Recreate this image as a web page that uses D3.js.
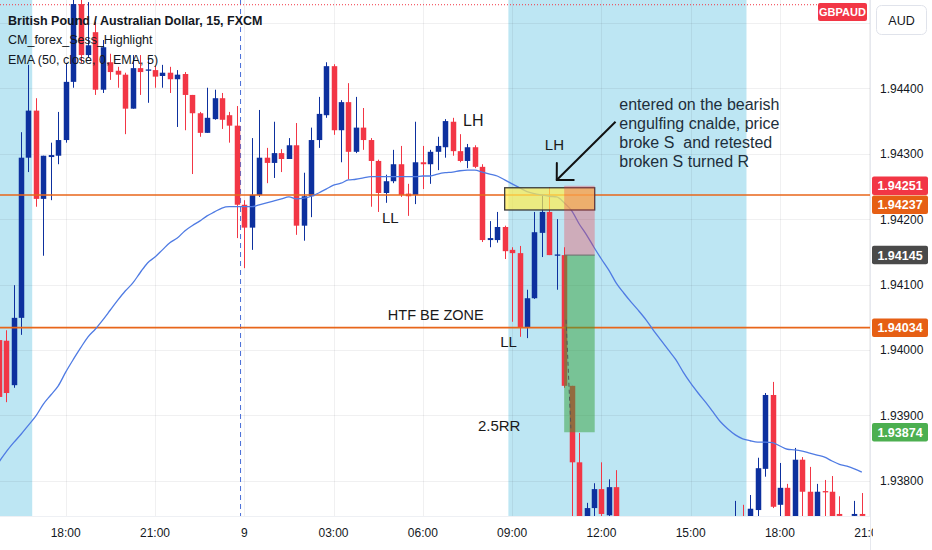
<!DOCTYPE html>
<html><head><meta charset="utf-8">
<script src="https://cdn.jsdelivr.net/npm/d3@7"></script>
<style>
html,body{margin:0;padding:0;background:#fff;}
svg{display:block;font-family:"Liberation Sans",Arial,sans-serif;}
text{white-space:pre;}
</style>
</head><body>
<svg id="chart" width="932" height="550"></svg>
<script>
// ---------------- DATA ----------------
// 15-minute candles, index 0 = 18:00 (day 8); index 24 = 00:00 day 9
const candleIndex = [-9,-8,-7,-6,-5,-4,-3,-2,-1,
  0,1,2,3,4,5,6,7,8,9,10,11,12,13,14,15,16,17,18,19,20,21,22,23,24,25,26,27,28,29,
  30,31,32,33,34,35,36,37,38,39,40,41,42,43,44,45,46,47,48,49,50,51,52,53,54,55,56,57,58,59,
  60,61,62,63,64,65,66,67,68,69,70,71,72,73,74,
  90,91,92,93,94,95,96,97,98,99,100,101,102,103,104,106,107];
const openV = [1.94015,1.94014,1.93946,1.94049,1.94294,1.94366,1.94231,1.94295,1.94297,
  1.94321,1.94410,1.94529,1.94451,1.94486,1.94398,1.94440,1.94427,1.94421,1.94369,
  1.94431,1.94427,1.94428,1.94419,1.94424,1.94414,1.94422,1.94390,1.94362,1.94332,
  1.94353,1.94385,1.94359,1.94343,1.94222,1.94187,1.94237,1.94294,1.94286,1.94301,
  1.94292,1.94313,1.94190,1.94235,1.94321,1.94359,1.94434,1.94336,1.94379,1.94303,
  1.94340,1.94321,1.94289,1.94240,1.94258,1.94284,1.94239,1.94237,1.94287,1.94284,
  1.94303,1.94310,1.94349,1.94304,1.94289,1.94310,1.94280,1.94168,1.94168,1.94188,
  1.94153,1.94148,1.94034,1.94079,1.94179,1.94211,1.94144,1.94145,1.93945,1.93828,
  1.93732,1.93758,1.93787,1.93747,1.93790,
  1.93724,1.93732,1.93732,1.93755,1.93818,1.93931,1.93763,1.93789,1.93737,1.93832,
  1.93783,1.93737,1.93784,1.93783,1.93749,1.93746,1.93749];
const highV = [1.94023,1.94030,1.94099,1.94333,1.94436,1.94385,1.94297,1.94317,1.94364,
  1.94439,1.94540,1.94540,1.94532,1.94502,1.94474,1.94453,1.94433,1.94424,1.94451,
  1.94451,1.94447,1.94434,1.94436,1.94433,1.94428,1.94425,1.94390,1.94364,1.94401,
  1.94398,1.94393,1.94364,1.94373,1.94229,1.94324,1.94367,1.94309,1.94349,1.94307,
  1.94324,1.94347,1.94271,1.94340,1.94387,1.94440,1.94437,1.94382,1.94408,1.94387,
  1.94370,1.94324,1.94291,1.94268,1.94306,1.94312,1.94254,1.94349,1.94312,1.94306,
  1.94326,1.94353,1.94355,1.94330,1.94315,1.94313,1.94284,1.94197,1.94211,1.94190,
  1.94157,1.94159,1.94092,1.94211,1.94237,1.94249,1.94200,1.94157,1.93945,1.93873,
  1.93766,1.93796,1.93828,1.93802,1.93816,
  1.93769,1.93763,1.93778,1.93835,1.93934,1.93951,1.93827,1.93795,1.93850,1.93836,
  1.93821,1.93795,1.93801,1.93807,1.93776,1.93769,1.93781];
const lowV = [1.93923,1.93920,1.93942,1.94023,1.94272,1.94219,1.94144,1.94229,1.94284,
  1.94317,1.94401,1.94439,1.94447,1.94390,1.94393,1.94413,1.94401,1.94330,1.94369,
  1.94390,1.94378,1.94401,1.94401,1.94393,1.94341,1.94336,1.94269,1.94326,1.94332,
  1.94352,1.94338,1.94317,1.94171,1.94125,1.94153,1.94234,1.94255,1.94263,1.94272,
  1.94292,1.94176,1.94167,1.94203,1.94309,1.94355,1.94329,1.94287,1.94261,1.94301,
  1.94306,1.94219,1.94211,1.94225,1.94255,1.94234,1.94205,1.94223,1.94246,1.94254,
  1.94275,1.94294,1.94297,1.94287,1.94278,1.94278,1.94165,1.94157,1.94164,1.94139,
  1.94043,1.94020,1.94018,1.94078,1.94142,1.94145,1.94092,1.93942,1.93709,1.93701,
  1.93724,1.93732,1.93732,1.93732,1.93724,
  1.93717,1.93717,1.93724,1.93732,1.93806,1.93758,1.93732,1.93728,1.93728,1.93732,
  1.93728,1.93728,1.93732,1.93728,1.93732,1.93732,1.93732];
const closeV = [1.93928,1.93934,1.94049,1.94294,1.94366,1.94231,1.94297,1.94298,1.94321,
  1.94410,1.94529,1.94451,1.94466,1.94398,1.94463,1.94425,1.94421,1.94369,1.94431,
  1.94425,1.94429,1.94418,1.94424,1.94414,1.94421,1.94390,1.94362,1.94332,1.94355,
  1.94385,1.94352,1.94343,1.94222,1.94187,1.94237,1.94294,1.94286,1.94301,1.94292,
  1.94313,1.94190,1.94235,1.94321,1.94361,1.94434,1.94336,1.94379,1.94303,1.94340,
  1.94321,1.94289,1.94240,1.94258,1.94284,1.94237,1.94235,1.94287,1.94284,1.94303,
  1.94312,1.94350,1.94304,1.94289,1.94310,1.94280,1.94168,1.94171,1.94188,1.94151,
  1.94148,1.94034,1.94079,1.94180,1.94211,1.94145,1.94146,1.93945,1.93828,1.93724,
  1.93758,1.93787,1.93749,1.93790,1.93737,
  1.93732,1.93724,1.93757,1.93819,1.93931,1.93760,1.93789,1.93737,1.93832,1.93783,
  1.93737,1.93783,1.93782,1.93737,1.93746,1.93749,1.93746];

// EMA (50, close, EMA 5), one value per candle index from -9 to 107
const emaStart = -9;
const emaValues = [1.93828,1.93844,1.93858,1.93871,1.93885,1.93899,1.93917,1.93931,1.93945,
  1.93966,1.93985,1.94003,1.94020,1.94032,1.94046,1.94061,1.94076,1.94090,1.94102,
  1.94118,1.94133,1.94142,1.94153,1.94164,1.94171,1.94182,1.94190,1.94197,1.94205,
  1.94211,1.94217,1.94219,1.94219,1.94219,1.94219,1.94222,1.94225,1.94228,1.94231,
  1.94234,1.94231,1.94232,1.94235,1.94240,1.94246,1.94252,1.94255,1.94260,1.94261,
  1.94263,1.94265,1.94265,1.94265,1.94265,1.94265,1.94265,1.94265,1.94266,1.94266,
  1.94269,1.94271,1.94272,1.94274,1.94275,1.94275,1.94272,1.94269,1.94266,1.94260,
  1.94254,1.94248,1.94242,1.94239,1.94237,1.94235,1.94234,1.94225,1.94213,1.94193,
  1.94176,1.94157,1.94139,1.94122,1.94102,1.94087,1.94073,1.94060,1.94046,1.94030,
  1.94015,1.94000,1.93985,1.93966,1.93949,1.93934,1.93920,1.93905,1.93890,1.93879,
  1.93870,1.93864,1.93861,1.93859,1.93859,1.93858,1.93853,1.93848,1.93847,1.93845,
  1.93842,1.93839,1.93836,1.93830,1.93825,1.93822,1.93818,1.93813];

const priceTicks = [1.938,1.939,1.940,1.941,1.942,1.943,1.944,1.945];
const priceTickLabels = ["1.93800","1.93900","1.94000","1.94100","1.94200","1.94300","1.94400",""];
const timeTickIndex = [0,12,24,36,48,60,72,84,96,108];
const timeTickLabels = ["18:00","21:00","9","03:00","06:00","09:00","12:00","15:00","18:00","21:00"];
const sessionStart = [-20,60];
const sessionEnd = [-5,91];
const dayBreakIndex = [24];

const horizontalLevels = [1.94237,1.94034];
const topDottedLevel = 1.94528;
const axisLabelValues = [1.94251,1.94237,1.94145,1.94034,1.93874];
const axisLabelColors = ["#f23645","#e65f14","#4a4a4a","#e65f14","#4caf50"];

// Drawings
const zoneBox = {i0:59, i1:71.1, top:1.94248, bottom:1.94214};
const position = {i0:67, i1:71.1, stop:1.94251, entry:1.94145, target:1.93874};
const positionPath = [[67.25,1.94046],[67.9,1.93880]];
const arrowFrom = [73.9,1.94349];
const arrowTo = [66.0,1.94260];
const noteLines = ["entered on the bearish","engulfing cnalde, price","broke S  and retested","broken S turned R"];
const notePos = [74.4,1.94367];
const labelTexts = ["LH","LH","LL","LL","HTF BE ZONE","2.5RR"];
const labelIdx = [53.4,64.4,42.5,58.4,43.3,55.4];
const labelPrice = [1.94343,1.94306,1.94194,1.94004,1.94046,1.93876];
const labelSize = [16,15,15,15,14.5,15];
const legendLines = ["British Pound / Australian Dollar, 15, FXCM","CM_forex_Sess_Highlight","EMA (50, close, 0, EMA, 5)"];

// ---------------- LAYOUT ----------------
const W = 932, H = 550, plotW = 870, plotH = 516;
const svg = d3.select("#chart");
const x = d3.scaleLinear().domain([0,107]).range([65.7,861.8]);
const y = d3.scaleLinear().domain([1.944,1.939]).range([88.4,88.4+5*65.37]);

const candles = candleIndex.map((k,i)=>({k,o:openV[i],h:highV[i],l:lowV[i],c:closeV[i]}));

svg.append("rect").attr("width",W).attr("height",H).attr("fill","#fff");
svg.append("clipPath").attr("id","plotClip").append("rect").attr("x",0).attr("y",0).attr("width",plotW).attr("height",plotH);
const plot = svg.append("g").attr("clip-path","url(#plotClip)");

// sessions
plot.selectAll("rect.sess").data(sessionStart.map((s,i)=>[s,sessionEnd[i]])).enter().append("rect")
  .attr("x",d=>x(d[0]-0.5)).attr("width",d=>x(d[1]+0.5)-x(d[0]-0.5))
  .attr("y",0).attr("height",plotH).attr("fill","#bde6f3");

// grid
plot.selectAll("line.hg").data(priceTicks).enter().append("line")
  .attr("x1",0).attr("x2",plotW).attr("y1",d=>Math.round(y(d))+0.5).attr("y2",d=>Math.round(y(d))+0.5)
  .attr("stroke","rgba(42,46,57,0.07)");
plot.selectAll("line.vg").data(timeTickIndex).enter().append("line")
  .attr("y1",0).attr("y2",plotH).attr("x1",d=>Math.round(x(d))+0.5).attr("x2",d=>Math.round(x(d))+0.5)
  .attr("stroke","rgba(42,46,57,0.07)");

// day break
plot.selectAll("line.db").data(dayBreakIndex).enter().append("line")
  .attr("x1",d=>x(d-0.5)).attr("x2",d=>x(d-0.5)).attr("y1",0).attr("y2",plotH)
  .attr("stroke","#4a6fd8").attr("stroke-width",1).attr("stroke-dasharray","5,4");

// top dotted red line
plot.append("line").attr("x1",0).attr("x2",818).attr("y1",y(topDottedLevel)).attr("y2",y(topDottedLevel))
  .attr("stroke","#f23645").attr("stroke-width",1).attr("stroke-dasharray","1,2");

// candles
const cg = plot.append("g");
const col = d=> d.c>=d.o ? "#0d309e" : "#f23645";
cg.selectAll("line.wick").data(candles).enter().append("line")
  .attr("x1",d=>Math.round(x(d.k))+0.5).attr("x2",d=>Math.round(x(d.k))+0.5)
  .attr("y1",d=>y(d.h)).attr("y2",d=>y(d.l)).attr("stroke",col).attr("stroke-width",1);
cg.selectAll("rect.body").data(candles).enter().append("rect")
  .attr("x",d=>Math.round(x(d.k))+0.5-2.75).attr("width",5.5)
  .attr("y",d=>y(Math.max(d.o,d.c))).attr("height",d=>Math.max(1.2,Math.abs(y(d.o)-y(d.c))))
  .attr("fill",col);

// horizontal orange levels
plot.selectAll("line.lvl").data(horizontalLevels).enter().append("line")
  .attr("x1",0).attr("x2",plotW).attr("y1",d=>y(d)).attr("y2",d=>y(d))
  .attr("stroke","#e8661a").attr("stroke-width",1.6);

// EMA
const emaData = emaValues.map((v,i)=>[emaStart+i,v]);
plot.append("path").datum(emaData)
  .attr("d",d3.line().x(d=>x(d[0])).y(d=>y(d[1])).curve(d3.curveMonotoneX))
  .attr("fill","none").attr("stroke","#4f7be3").attr("stroke-width",1.3);

// zone box
plot.append("rect").attr("x",x(zoneBox.i0)).attr("width",x(zoneBox.i1)-x(zoneBox.i0))
  .attr("y",y(zoneBox.top)).attr("height",y(zoneBox.bottom)-y(zoneBox.top))
  .attr("fill","rgba(255,236,80,0.7)").attr("stroke","#3a3a3a").attr("stroke-width",1.3);

// position tool
const px0 = x(position.i0), px1 = x(position.i1);
plot.append("rect").attr("x",px0).attr("width",px1-px0).attr("y",y(position.stop)).attr("height",y(position.entry)-y(position.stop))
  .attr("fill","rgba(242,54,69,0.33)");
plot.append("rect").attr("x",px0).attr("width",px1-px0).attr("y",y(position.entry)).attr("height",y(position.target)-y(position.entry))
  .attr("fill","rgba(51,160,57,0.5)");
plot.append("line").attr("x1",px0).attr("x2",px1).attr("y1",y(position.entry)).attr("y2",y(position.entry))
  .attr("stroke","#6b6b6b").attr("stroke-width",1);
plot.append("path").datum(positionPath)
  .attr("d",d3.line().x(d=>x(d[0])).y(d=>y(d[1])))
  .attr("fill","none").attr("stroke","#555").attr("stroke-width",1).attr("stroke-dasharray","4,3");

// arrow
const ax0 = x(arrowFrom[0]), ay0 = y(arrowFrom[1]), ax1 = x(arrowTo[0]), ay1 = y(arrowTo[1]);
plot.append("line").attr("x1",ax0).attr("y1",ay0).attr("x2",ax1).attr("y2",ay1)
  .attr("stroke","#111").attr("stroke-width",2);
const ang = Math.atan2(ay0-ay1, ax0-ax1), hl = 17;
[Math.PI/4,-Math.PI/4].forEach(a=>{
  plot.append("line").attr("x1",ax1).attr("y1",ay1)
    .attr("x2",ax1+hl*Math.cos(ang+a)).attr("y2",ay1+hl*Math.sin(ang+a))
    .attr("stroke","#111").attr("stroke-width",2).attr("stroke-linecap","round");
});

// note
plot.append("g").selectAll("text").data(noteLines).enter().append("text")
  .attr("x",x(notePos[0])).attr("y",(d,i)=>y(notePos[1])+i*19)
  .attr("font-size",16).attr("fill","#1d2f3b").text(d=>d);

// labels
plot.append("g").selectAll("text").data(labelTexts).enter().append("text")
  .attr("x",(d,i)=>x(labelIdx[i])).attr("y",(d,i)=>y(labelPrice[i]))
  .attr("font-size",(d,i)=>labelSize[i]).attr("fill","#1a1a1a").text(d=>d);

// legend
svg.append("g").selectAll("text").data(legendLines).enter().append("text")
  .attr("x",8).attr("y",(d,i)=>25+i*19.3)
  .attr("font-size",12.5).attr("font-weight",(d,i)=>i===0?"bold":"normal")
  .attr("fill","#131722").text(d=>d);

// axes separators
svg.append("line").attr("x1",plotW+0.5).attr("x2",plotW+0.5).attr("y1",0).attr("y2",H).attr("stroke","#e6e8ee");
svg.append("line").attr("x1",0).attr("x2",plotW).attr("y1",plotH+0.5).attr("y2",plotH+0.5).attr("stroke","#eef0f4");

// price tick labels
svg.append("g").selectAll("text").data(priceTicks).enter().append("text")
  .attr("x",880).attr("y",d=>y(d)+4.5).attr("font-size",12).attr("fill","#131722")
  .text((d,i)=>priceTickLabels[i]);

// price label boxes with collision push
const boxH = 18.5;
let placed = [];
axisLabelValues.forEach((v,i)=>{
  let cy = y(v);
  placed.forEach(p=>{ if (Math.abs(cy-p) < boxH) cy = p + boxH + 0.5; });
  placed.push(cy);
  const g = svg.append("g");
  g.append("rect").attr("x",872).attr("y",cy-boxH/2).attr("width",56).attr("height",boxH).attr("rx",2)
    .attr("fill",axisLabelColors[i]);
  g.append("text").attr("x",900).attr("y",cy+4.5).attr("text-anchor","middle")
    .attr("font-size",12.5).attr("font-weight","bold").attr("fill","#fff").text(v.toFixed(5));
});

// time labels
svg.append("clipPath").attr("id","timeClip").append("rect").attr("x",0).attr("y",plotH).attr("width",873).attr("height",H-plotH);
svg.append("g").attr("clip-path","url(#timeClip)").selectAll("text").data(timeTickIndex).enter().append("text")
  .attr("x",d=>x(d)).attr("y",537).attr("text-anchor","middle").attr("font-size",12).attr("fill","#131722")
  .text((d,i)=>timeTickLabels[i]);

// symbol tag & currency box
svg.append("rect").attr("x",818).attr("y",3).attr("width",49).attr("height",18).attr("rx",2).attr("fill","#f23645");
svg.append("text").attr("x",842.5).attr("y",16).attr("text-anchor","middle").attr("font-size",11).attr("font-weight","bold").attr("fill","#fff").text("GBPAUD");
svg.append("rect").attr("x",876.5).attr("y",5.5).attr("width",50).attr("height",29).attr("rx",5)
  .attr("fill","#fff").attr("stroke","#e0e3eb");
svg.append("text").attr("x",901.5).attr("y",24.5).attr("text-anchor","middle").attr("font-size",12.5).attr("fill","#131722").text("AUD");
</script>
</body></html>
